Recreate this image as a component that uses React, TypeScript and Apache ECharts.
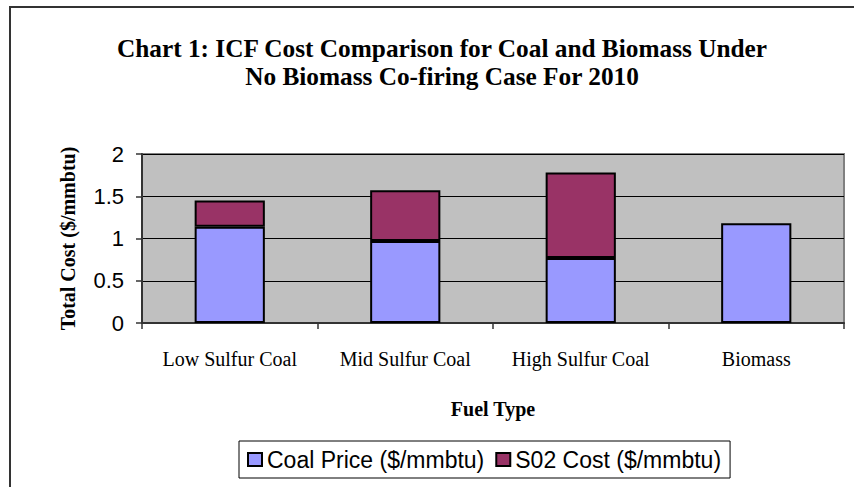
import React, { useEffect, useRef } from "react";
import * as echarts from "echarts";

const categories = ["Low Sulfur Coal", "Mid Sulfur Coal", "High Sulfur Coal", "Biomass"];
const coalPrice = [1.14, 0.97, 0.77, 1.18];
const so2Cost = [0.31, 0.6, 1.01, null];
const yTicks = { min: 0, max: 2, interval: 0.5 };
const seriesNames = ["Coal Price ($/mmbtu)", "S02 Cost ($/mmbtu)"];
const titleLines = [
  "Chart 1: ICF Cost Comparison for Coal and Biomass Under",
  "No Biomass Co-firing Case For 2010",
];

const SERIF = "'Liberation Serif', 'Times New Roman', serif";
const SANS = "'Liberation Sans', Arial, sans-serif";

export default function App() {
  const ref = useRef<HTMLDivElement>(null);
  useEffect(() => {
    if (!ref.current) return;
    const chart = echarts.init(ref.current, null, { renderer: "svg" });
    chart.setOption({
      animation: false,
      backgroundColor: "#ffffff",
      title: {
        text: titleLines.join("\n"),
        left: 442,
        top: 34,
        textAlign: "center",
        padding: 0,
        textStyle: {
          fontFamily: SERIF,
          fontWeight: "bold",
          fontSize: 25.3,
          lineHeight: 28,
          color: "#000",
        },
      },
      graphic: [
        {
          type: "rect",
          silent: true,
          shape: { x: 10, y: 7, width: 900, height: 600 },
          style: { fill: "none", stroke: "#333", lineWidth: 2 },
        },
      ],
      legend: {
        left: 239,
        top: 441,
        orient: "horizontal",
        padding: [6, 9, 6, 8],
        itemWidth: 14,
        itemHeight: 13,
        itemGap: 11,
        borderColor: "#000",
        borderWidth: 1,
        icon: "rect",
        textStyle: { fontFamily: SANS, fontSize: 23, color: "#000", lineHeight: 25, padding: [0, 0, 0, 0] },
        data: seriesNames,
      },
      grid: {
        left: 142,
        right: 10,
        top: 154,
        bottom: 164,
        show: true,
        backgroundColor: "#C0C0C0",
        borderColor: "#808080",
        borderWidth: 2,
      },
      xAxis: {
        type: "category",
        data: categories,
        name: "Fuel Type",
        nameLocation: "middle",
        nameGap: 76,
        nameTextStyle: { fontFamily: SERIF, fontWeight: "bold", fontSize: 20, color: "#000" },
        axisLine: { show: true, lineStyle: { color: "#333", width: 2 } },
        axisTick: { show: true, length: 6, interval: 0, lineStyle: { color: "#333", width: 1.5 } },
        axisLabel: { fontFamily: SERIF, fontSize: 20, color: "#000", margin: 26, interval: 0 },
        splitLine: { show: false },
      },
      yAxis: {
        type: "value",
        min: yTicks.min,
        max: yTicks.max,
        interval: yTicks.interval,
        name: "Total Cost ($/mmbtu)",
        nameLocation: "middle",
        nameGap: 64,
        nameTextStyle: { fontFamily: SERIF, fontWeight: "bold", fontSize: 20, color: "#000" },
        axisLine: { show: true, lineStyle: { color: "#333", width: 2 } },
        axisTick: { show: true, length: 6, lineStyle: { color: "#333", width: 1.5 } },
        axisLabel: { fontFamily: SANS, fontSize: 22, color: "#000", margin: 18 },
        splitLine: { show: true, lineStyle: { color: "#000", width: 1 } },
      },
      series: [
        {
          name: seriesNames[0],
          type: "bar",
          stack: "total",
          barWidth: "40%",
          data: coalPrice,
          itemStyle: { color: "#9999FF", borderColor: "#000", borderWidth: 2 },
        },
        {
          name: seriesNames[1],
          type: "bar",
          stack: "total",
          barWidth: "40%",
          data: so2Cost,
          itemStyle: { color: "#993366", borderColor: "#000", borderWidth: 2 },
        },
      ],
    });
    return () => chart.dispose();
  }, []);
  return (
    <div
      ref={ref}
      style={{ position: "fixed", left: 0, top: 0, width: 854, height: 487 }}
    />
  );
}
